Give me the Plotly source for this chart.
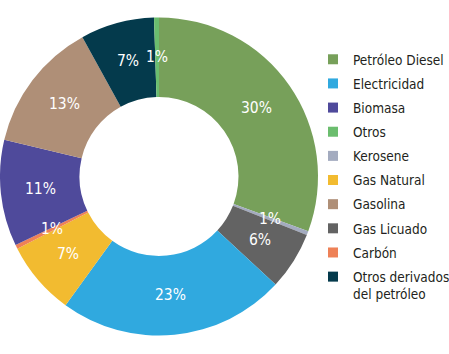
import math
import plotly.graph_objects as go

# Legend order
legend_labels = ["Petróleo Diesel", "Electricidad", "Biomasa", "Otros", "Kerosene",
                 "Gas Natural", "Gasolina", "Gas Licuado", "Carbón",
                 "Otros derivados<br>del petróleo"]

# Slices, clockwise from 12 o'clock
slice_labels = ["Petróleo Diesel", "Kerosene", "Gas Licuado", "Electricidad", "Gas Natural",
                "Carbón", "Biomasa", "Gasolina", "Otros derivados<br>del petróleo", "Otros"]
slice_values = [30.6, 0.4, 5.9, 23.1, 7.5, 0.4, 10.8, 13.3, 7.5, 0.5]
slice_text = ["30%", "1%", "6%", "23%", "7%", "1%", "11%", "13%", "7%", "1%"]

colors = {
    "Petróleo Diesel": "#77A05A",
    "Electricidad": "#30A9DF",
    "Biomasa": "#4F4A9B",
    "Otros": "#6BBD6E",
    "Kerosene": "#A3ABBF",
    "Gas Natural": "#F2BB30",
    "Gasolina": "#AF8F77",
    "Gas Licuado": "#636363",
    "Carbón": "#EE8157",
    "Otros derivados<br>del petróleo": "#043A4C",
}

FONT = "DejaVu Sans Condensed"
W, H = 449, 354
dom_x = [0, 318 / W]
dom_y = [1 - 337 / H, 1 - 16 / H]
HOLE = 0.5

fig = go.Figure()
fig.add_trace(go.Pie(
    labels=slice_labels,
    values=slice_values,
    textinfo="none",
    marker=dict(colors=[colors[l] for l in slice_labels], line=dict(width=0)),
    hole=HOLE,
    sort=False,
    direction="clockwise",
    rotation=0,
    showlegend=False,
    domain=dict(x=dom_x, y=dom_y),
    hoverinfo="label+percent",
))

# Labels at the middle of the ring, at each slice's mid angle
cx_px = (dom_x[0] + dom_x[1]) / 2 * W
cy_px = (dom_y[0] + dom_y[1]) / 2 * H
R = min((dom_x[1] - dom_x[0]) * W, (dom_y[1] - dom_y[0]) * H) / 2
r_lab = R * (1 + HOLE) / 2
total = sum(slice_values)
cum = 0
for v, t in zip(slice_values, slice_text):
    mid = (cum + v / 2) / total * 2 * math.pi
    cum += v
    px = cx_px + r_lab * math.sin(mid)
    py = cy_px + r_lab * math.cos(mid)
    fig.add_annotation(
        x=px / W, y=py / H, xref="paper", yref="paper", text=t, showarrow=False,
        font=dict(family=FONT, size=15.5, color="white"), xanchor="center", yanchor="middle",
    )

for i, lab in enumerate(legend_labels):
    fig.add_trace(go.Scatter(
        x=[None], y=[None], mode="markers", name=lab,
        marker=dict(symbol="square", size=10, color=colors[lab]),
        legendgroup=f"g{i}", showlegend=True,
    ))

fig.update_layout(
    width=W, height=H,
    margin=dict(l=0, r=0, t=0, b=0, autoexpand=False),
    paper_bgcolor="white", plot_bgcolor="white",
    xaxis=dict(visible=False), yaxis=dict(visible=False),
    legend=dict(
        x=313 / W, xanchor="left", y=1 - 44 / H, yanchor="top",
        font=dict(family=FONT, size=13.5, color="#231F20"),
        bgcolor="rgba(0,0,0,0)", borderwidth=0,
        tracegroupgap=3.6, valign="top",
        itemwidth=30,
    ),
)

fig.write_html("out.html")
